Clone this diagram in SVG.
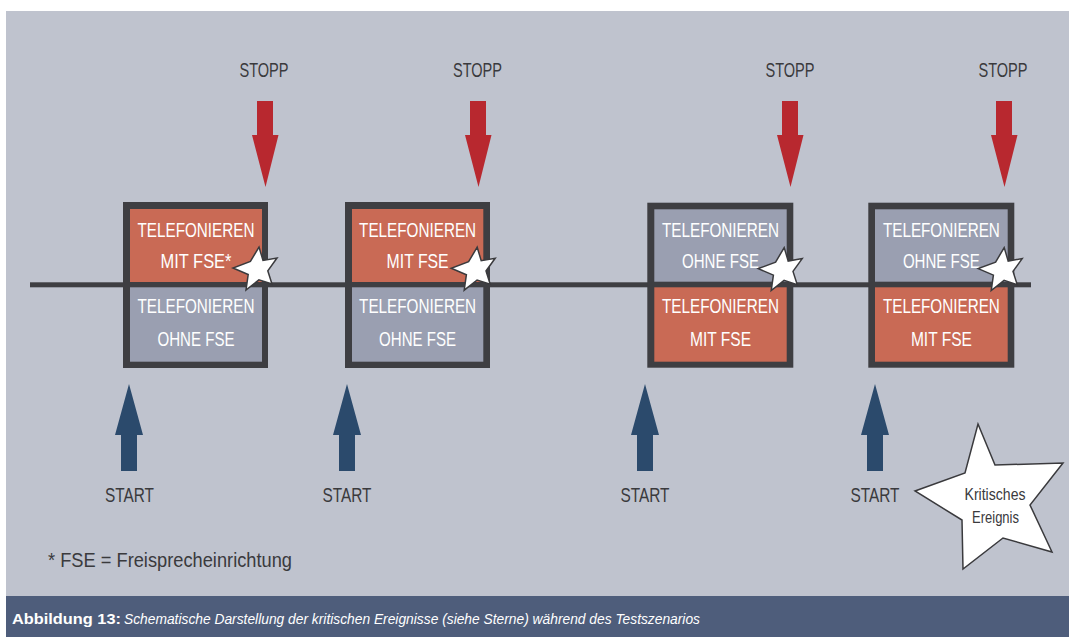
<svg xmlns="http://www.w3.org/2000/svg" xmlns:xlink="http://www.w3.org/1999/xlink" width="1069" height="637" viewBox="0 0 1069 637">
<style>
.lbl{font-family:"Liberation Sans",Arial,sans-serif;font-size:21px;fill:#3a3a3d;text-anchor:middle}
.bx{font-family:"Liberation Sans",Arial,sans-serif;font-size:21px;fill:#ffffff;text-anchor:middle}
.frame{fill:#3e3e42}
.red{fill:#c96a55}
.gray{fill:#9a9fb1}
.stop{fill:#b8282f}
.start{fill:#2b4a6c}
.star{fill:#ffffff;stroke:#3a3a3d;stroke-width:1.5;stroke-linejoin:miter}
.cap{font-family:"Liberation Sans",Arial,sans-serif;font-size:15px;fill:#ffffff}
</style>
<defs>
<path id="sstar" d="M1.6,-22.4 L5.6,-8.9 L19.6,-11.4 L10.4,1.4 L14.6,14.6 L1.5,10.4 L-11.4,20.6 L-9.2,5.1 L-24.4,-1.4 L-7,-7.9 Z"/>
<path id="down" d="M-8,0 H8 V34 H13.5 L0.5,86 L-13,34 H-8 Z"/>
<path id="up" d="M0,0 L14,51 H8 V87 H-8 V51 H-14 Z"/>
</defs>
<rect x="0" y="0" width="1069" height="637" fill="#ffffff"/>
<rect x="6" y="11" width="1063" height="585" fill="#bfc3ce"/>
<rect x="6" y="596" width="1063" height="41" fill="#4e5d7b"/>

<g id="timeline">
<rect x="30" y="282.3" width="1001" height="5" class="frame"/>
</g>

<g id="box1">
<rect x="123" y="202" width="145" height="166" class="frame"/>
<rect x="130" y="209" width="132" height="73" class="red"/>
<rect x="130" y="287.3" width="132" height="74.4" class="gray"/>
<text class="bx" x="196" y="236.7" textLength="117" lengthAdjust="spacingAndGlyphs">TELEFONIEREN</text>
<text class="bx" x="196" y="267.7" textLength="71" lengthAdjust="spacingAndGlyphs">MIT FSE*</text>
<text class="bx" x="196" y="312.7" textLength="117" lengthAdjust="spacingAndGlyphs">TELEFONIEREN</text>
<text class="bx" x="196" y="346" textLength="77" lengthAdjust="spacingAndGlyphs">OHNE FSE</text>
</g>

<g id="box2">
<rect x="345" y="202" width="145" height="166" class="frame"/>
<rect x="352" y="209" width="131.3" height="73" class="red"/>
<rect x="352" y="287.3" width="131.3" height="74.4" class="gray"/>
<text class="bx" x="417.6" y="236.7" textLength="117" lengthAdjust="spacingAndGlyphs">TELEFONIEREN</text>
<text class="bx" x="417.6" y="267.7" textLength="62" lengthAdjust="spacingAndGlyphs">MIT FSE</text>
<text class="bx" x="417.6" y="312.7" textLength="117" lengthAdjust="spacingAndGlyphs">TELEFONIEREN</text>
<text class="bx" x="417.6" y="346" textLength="77" lengthAdjust="spacingAndGlyphs">OHNE FSE</text>
</g>

<g id="box3">
<rect x="647.3" y="202.7" width="146" height="165" class="frame"/>
<rect x="654.3" y="209.3" width="132.4" height="72.4" class="gray"/>
<rect x="654.3" y="287.3" width="132.4" height="74.4" class="red"/>
<text class="bx" x="720.5" y="236.7" textLength="117" lengthAdjust="spacingAndGlyphs">TELEFONIEREN</text>
<text class="bx" x="720.5" y="268.3" textLength="77" lengthAdjust="spacingAndGlyphs">OHNE FSE</text>
<text class="bx" x="720.5" y="312.7" textLength="117" lengthAdjust="spacingAndGlyphs">TELEFONIEREN</text>
<text class="bx" x="720.5" y="346" textLength="61" lengthAdjust="spacingAndGlyphs">MIT FSE</text>
</g>

<g id="box4">
<rect x="868.3" y="202.7" width="146" height="165" class="frame"/>
<rect x="875" y="209.3" width="132.7" height="72.4" class="gray"/>
<rect x="875" y="287.3" width="132.7" height="74.4" class="red"/>
<text class="bx" x="941.4" y="236.7" textLength="117" lengthAdjust="spacingAndGlyphs">TELEFONIEREN</text>
<text class="bx" x="941.4" y="268.3" textLength="77" lengthAdjust="spacingAndGlyphs">OHNE FSE</text>
<text class="bx" x="941.4" y="312.7" textLength="117" lengthAdjust="spacingAndGlyphs">TELEFONIEREN</text>
<text class="bx" x="941.4" y="346" textLength="61" lengthAdjust="spacingAndGlyphs">MIT FSE</text>
</g>

<g id="connectors">
<use xlink:href="#down" href="#down" x="265" y="101" class="stop"/>
<use xlink:href="#down" href="#down" x="478" y="101" class="stop"/>
<use xlink:href="#down" href="#down" x="790" y="101" class="stop"/>
<use xlink:href="#down" href="#down" x="1004" y="101" class="stop"/>
<use xlink:href="#up" href="#up" x="129" y="384" class="start"/>
<use xlink:href="#up" href="#up" x="347" y="384" class="start"/>
<use xlink:href="#up" href="#up" x="645" y="384" class="start"/>
<use xlink:href="#up" href="#up" x="875" y="384" class="start"/>
</g>

<g id="stop-labels">
<text class="lbl" x="264" y="77" textLength="49" lengthAdjust="spacingAndGlyphs">STOPP</text>
<text class="lbl" x="477.5" y="77" textLength="49" lengthAdjust="spacingAndGlyphs">STOPP</text>
<text class="lbl" x="790" y="77" textLength="49" lengthAdjust="spacingAndGlyphs">STOPP</text>
<text class="lbl" x="1003" y="77" textLength="49" lengthAdjust="spacingAndGlyphs">STOPP</text>
</g>
<g id="start-labels">
<text class="lbl" x="129.5" y="502" textLength="49" lengthAdjust="spacingAndGlyphs">START</text>
<text class="lbl" x="347" y="502" textLength="49" lengthAdjust="spacingAndGlyphs">START</text>
<text class="lbl" x="645" y="502" textLength="49" lengthAdjust="spacingAndGlyphs">START</text>
<text class="lbl" x="875" y="502" textLength="49" lengthAdjust="spacingAndGlyphs">START</text>
</g>

<g id="stars">
<use xlink:href="#sstar" href="#sstar" x="257.4" y="269.4" class="star"/>
<use xlink:href="#sstar" href="#sstar" x="475.6" y="269.6" class="star"/>
<use xlink:href="#sstar" href="#sstar" x="782.6" y="270" class="star"/>
<use xlink:href="#sstar" href="#sstar" x="1002.6" y="270" class="star"/>
</g>

<g id="legend-star">
<path class="star" d="M978,424 L995,465 L1063,463 L1030,505 L1052,552 L1003,538 L963,569 L962,520 L915,491 L965,473 Z"/>
<text class="lbl" x="995" y="500" style="font-size:17px" textLength="61" lengthAdjust="spacingAndGlyphs">Kritisches</text>
<text class="lbl" x="995.5" y="523" style="font-size:17px" textLength="47" lengthAdjust="spacingAndGlyphs">Ereignis</text>
</g>

<g id="footnote">
<text class="lbl" x="48" y="567" style="text-anchor:start" textLength="244" lengthAdjust="spacingAndGlyphs">* FSE = Freisprecheinrichtung</text>
</g>

<g id="caption">
<text class="cap" x="12" y="624" font-weight="bold" textLength="109" lengthAdjust="spacingAndGlyphs">Abbildung 13:</text>
<text class="cap" x="124" y="624" font-style="italic" textLength="576" lengthAdjust="spacingAndGlyphs">Schematische Darstellung der kritischen Ereignisse (siehe Sterne) während des Testszenarios</text>
</g>
</svg>
